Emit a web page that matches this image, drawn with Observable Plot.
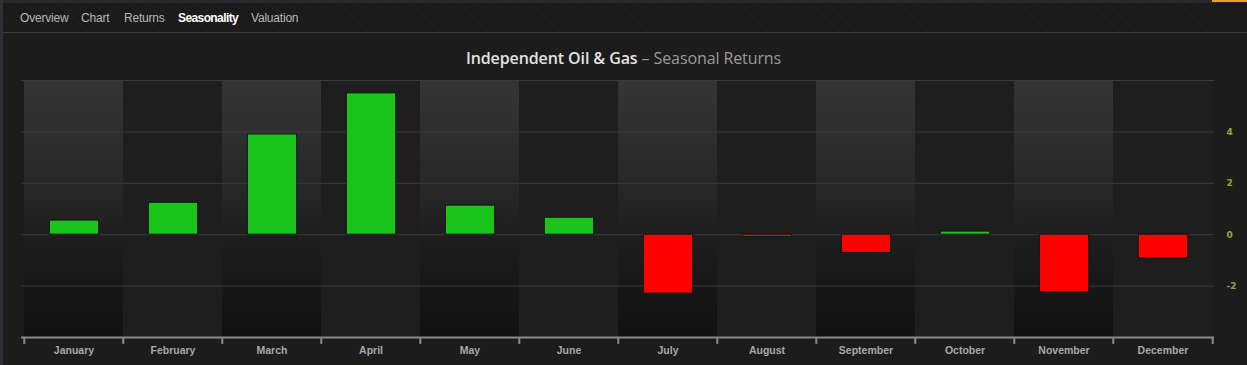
<!DOCTYPE html>
<html>
<head>
<meta charset="utf-8">
<script src="https://cdn.jsdelivr.net/npm/d3@7"></script>
<script src="https://cdn.jsdelivr.net/npm/@observablehq/plot@0.6"></script>
<style>
  html, body { margin: 0; padding: 0; background: #1c1c1c; width: 1247px; height: 365px; overflow: hidden; font-family: "Lucida Grande", "DejaVu Sans", sans-serif; }
  #page { position: relative; width: 1247px; height: 365px; }
  #topline { position: absolute; left: 0; top: 0; width: 1247px; height: 3px; background: #25282d; }
  #orange { position: absolute; left: 1212px; top: 0; width: 35px; height: 2px; background: #e8a020; }
  #leftstrip { position: absolute; left: 0; top: 0; width: 3px; height: 365px; background: #2c2f35; }
  #nav { position: absolute; left: 3px; top: 3px; width: 1244px; height: 29px; border-bottom: 1px solid #3a3a3a;
    background: repeating-linear-gradient(45deg, #1f1f1f 0px, #1f1f1f 1px, #191919 1px, #191919 3px); }
  #nav span { position: absolute; top: 8px; font-size: 12px; color: #b8b8b8; font-family: "Liberation Sans", Arial, sans-serif; letter-spacing: -0.2px; }
  #nav span.active { color: #fff; font-weight: bold; letter-spacing: -0.6px; }
  #title { position: absolute; left: 0; top: 47px; width: 1247px; text-align: center; font-size: 16px; font-family: "Open Sans", "DejaVu Sans", sans-serif; letter-spacing: -0.1px; }
  #title .a { color: #e2e2e2; font-weight: 600; }
  #title .b { color: #9a9a9a; }
  #chart { position: absolute; left: 0; top: 0; }
</style>
</head>
<body>
<div id="page">
  <div id="chart"></div>
  <div id="topline"></div>
  <div id="orange"></div>
  <div id="leftstrip"></div>
  <div id="nav">
    <span style="left:17px">Overview</span>
    <span style="left:78px">Chart</span>
    <span style="left:121px">Returns</span>
    <span class="active" style="left:175px">Seasonality</span>
    <span style="left:248px">Valuation</span>
  </div>
  <div id="title"><span class="a">Independent Oil &amp; Gas</span><span class="b"> – Seasonal Returns</span></div>
</div>
<script>
const months = ["January","February","March","April","May","June","July","August","September","October","November","December"];
const returns = [0.55, 1.24, 3.9, 5.5, 1.13, 0.66, -2.29, -0.09, -0.71, 0.12, -2.24, -0.92];
const yTicks = [-2, 0, 2, 4];
const gridValues = [6, 4, 2, 0, -2];
const yDomain = [-4, 6];

const data = months.map((m, i) => ({ month: m, value: returns[i], odd: i % 2 === 0 }));

const W = 1247, H = 365, mL = 21, mR = 33, mT = 80, mB = 28;
const bw = (W - mL - mR) / months.length;

const plot = Plot.plot({
  width: W,
  height: H,
  marginLeft: mL,
  marginRight: mR,
  marginTop: mT,
  marginBottom: mB,
  style: { background: "transparent", overflow: "visible" },
  x: { domain: months, padding: 0, label: null },
  y: { domain: yDomain, label: null },
  marks: [
    Plot.barY(data, { x: "month", y1: yDomain[0], y2: yDomain[1], fill: d => d.odd ? "url(#colgrad)" : "#1e1e1e" }),
    Plot.ruleY(gridValues, { stroke: "#3a3a3a", strokeWidth: 1 }),
    Plot.barY(data, {
      x: "month", y: "value",
      fill: d => d.value >= 0 ? "#1ac41a" : "#ff0000",
      stroke: "#141414", strokeWidth: 1,
      insetLeft: bw * 0.255, insetRight: bw * 0.245
    }),
    Plot.ruleY([yDomain[0]], { stroke: "#8a8a8a", strokeWidth: 2 }),
    Plot.ruleX(months, { x: d => d, y1: yDomain[0], y2: yDomain[0] - 0.27, dx: -bw / 2, stroke: "#8a8a8a", strokeWidth: 2 }),
    Plot.ruleX([months[months.length - 1]], { x: d => d, y1: yDomain[0], y2: yDomain[0] - 0.27, dx: bw / 2, stroke: "#8a8a8a", strokeWidth: 2 }),
    Plot.axisX({ tickSize: 0, tickPadding: 9, fill: "#a8a8a8", fontWeight: "bold", fontSize: 10.5, fontFamily: "Liberation Sans, Arial, sans-serif" }),
    Plot.axisY(yTicks, { anchor: "right", tickSize: 0, tickPadding: 12, fill: "#8fa83a", fontWeight: "bold", fontSize: 9, fontFamily: "DejaVu Sans, sans-serif", textAnchor: "start", tickFormat: d => String(d) })
  ]
});

const ns = "http://www.w3.org/2000/svg";
const defs = document.createElementNS(ns, "defs");
const grad = document.createElementNS(ns, "linearGradient");
grad.setAttribute("id", "colgrad");
grad.setAttribute("x1", "0"); grad.setAttribute("y1", "0");
grad.setAttribute("x2", "0"); grad.setAttribute("y2", "1");
[["0%", "#353535"], ["45%", "#262626"], ["60%", "#1e1e1e"], ["100%", "#111111"]].forEach(([o, c]) => {
  const s = document.createElementNS(ns, "stop");
  s.setAttribute("offset", o); s.setAttribute("stop-color", c);
  grad.appendChild(s);
});
defs.appendChild(grad);
plot.insertBefore(defs, plot.firstChild);

document.getElementById("chart").appendChild(plot);
</script>
</body>
</html>
